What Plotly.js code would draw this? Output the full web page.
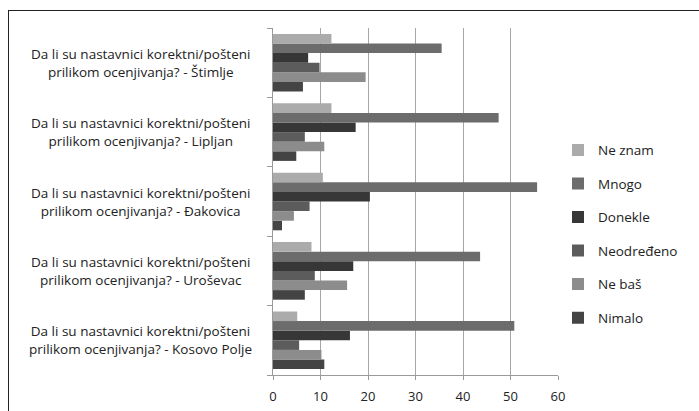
<!DOCTYPE html>
<html>
<head>
<meta charset="utf-8">
<script src="https://cdn.plot.ly/plotly-3.0.1.min.js"></script>
<style>
html,body{margin:0;padding:0;background:#fff;overflow:hidden;}
#wrap{position:relative;width:699px;height:411px;overflow:hidden;}
#chart{width:699px;height:411px;}
#frame{position:absolute;left:8px;top:10px;width:720px;height:440px;border-left:1.5px solid #222;border-top:1.5px solid #222;pointer-events:none;}
</style>
</head>
<body>
<div id="wrap"><div id="chart"></div><div id="frame"></div></div>
<script>
// Categories (bottom to top as drawn)
var categories = ["Kosovo Polje", "Uroševac", "Đakovica", "Lipljan", "Štimlje"];
var questionText = "Da li su nastavnici korektni/pošteni<br>prilikom ocenjivanja? - ";

// Series (values per category, same order as categories)
var nimalo     = [10.8, 6.7, 1.9, 4.9, 6.3];
var neBas      = [10.2, 15.6, 4.4, 10.8, 19.5];
var neodredeno = [5.5, 8.8, 7.7, 6.7, 9.8];
var donekle    = [16.2, 16.9, 20.4, 17.4, 7.4];
var mnogo      = [50.8, 43.6, 55.6, 47.5, 35.5];
var neZnam     = [5.1, 8.1, 10.5, 12.3, 12.3];

var seriesNames = ["Nimalo", "Ne baš", "Neodređeno", "Donekle", "Mnogo", "Ne znam"];
var seriesValues = [nimalo, neBas, neodredeno, donekle, mnogo, neZnam];
var seriesColors = ["#444444", "#8c8c8c", "#5c5c5c", "#373737", "#6c6c6c", "#ababab"];

var xTicks = [0, 10, 20, 30, 40, 50, 60];

var FONT = "'Open Sans', Lato, sans-serif";

var traces = seriesNames.map(function(name, i) {
  return {
    type: "bar",
    orientation: "h",
    name: name,
    y: categories,
    x: seriesValues[i],
    legendgroup: "g" + i,
    legendrank: 1000 - i,
    marker: {color: seriesColors[i], line: {width: 0}},
    hoverinfo: "x+name"
  };
});

var annotations = categories.map(function(c) {
  return {
    xref: "paper", yref: "y",
    x: -0.4637, y: c,
    text: questionText + c,
    showarrow: false,
    align: "center",
    xanchor: "center", yanchor: "middle",
    font: {family: FONT, size: 13.5, color: "#222"}
  };
});

var layout = {
  width: 699, height: 411,
  margin: {l: 273, r: 141, t: 28, b: 36, pad: 0},
  paper_bgcolor: "#fff", plot_bgcolor: "#fff",
  barmode: "group",
  bargap: 0.17, bargroupgap: 0,
  showlegend: true,
  legend: {
    x: 1.0, y: 0.406, xanchor: "left", yanchor: "middle",
    traceorder: "grouped", tracegroupgap: 13,
    font: {family: FONT, size: 13.5, color: "#222"},
    bgcolor: "rgba(0,0,0,0)"
  },
  xaxis: {
    range: [0, 60], tickvals: xTicks, ticktext: xTicks.map(String),
    showgrid: true, gridcolor: "#a6a6a6", gridwidth: 1,
    zeroline: false, showline: true, linecolor: "#9a9a9a", linewidth: 1,
    ticks: "outside", ticklen: 4, tickcolor: "#9a9a9a",
    ticklabelstandoff: 5,
    tickfont: {family: FONT, size: 13, color: "#222"},
    fixedrange: true
  },
  yaxis: {
    type: "category",
    showticklabels: false,
    showgrid: false, zeroline: false,
    showline: true, linecolor: "#9a9a9a", linewidth: 1,
    ticks: "outside", ticklen: 5, tickcolor: "#9a9a9a",
    tickson: "boundaries",
    fixedrange: true
  },
  annotations: annotations
};

Plotly.newPlot("chart", traces, layout, {displayModeBar: false, staticPlot: true});
</script>
</body>
</html>
